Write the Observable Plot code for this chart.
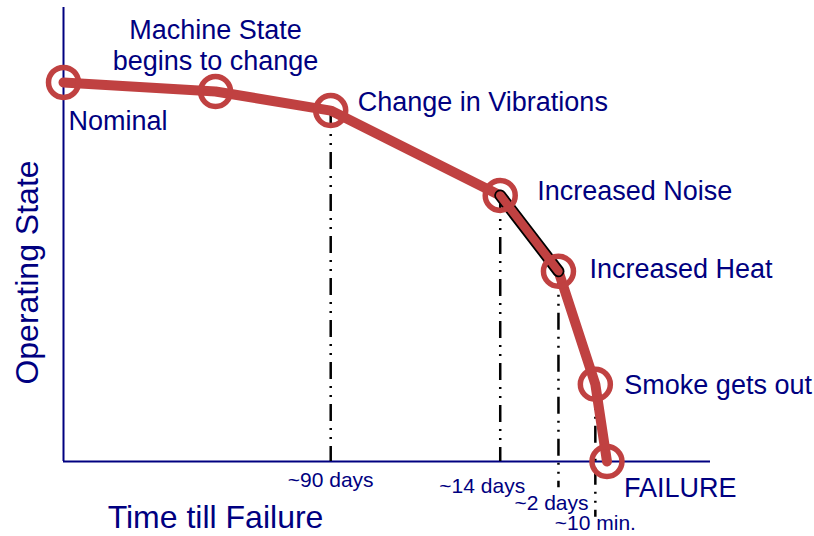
<!DOCTYPE html>
<html>
<head>
<meta charset="utf-8">
<script src="https://cdn.jsdelivr.net/npm/d3@7"></script>
<script src="https://cdn.jsdelivr.net/npm/@observablehq/plot@0.6"></script>
<style>
  html, body { margin: 0; padding: 0; background: #fff; }
  #chart svg { display: block; }
</style>
</head>
<body>
<div id="chart"></div>
<script>
// Stages of machine degradation (time position 0..100, operating state 0..100)
const stages = ["Nominal", "Machine State\nbegins to change", "Change in Vibrations", "Increased Noise", "Increased Heat", "Smoke gets out", "FAILURE"];
const timePos = [0, 23.5, 41.3, 67.5, 76.5, 82.2, 84.0];
const stateVal = [83.5, 81.5, 77.3, 58.6, 41.9, 17.0, 0];

// Time-till-failure markers (index of stage they drop from)
const markerStage = [2, 3, 4, 5];
const markerLabels = ["~90 days", "~14 days", "~2 days", "~10 min."];
const markerBottom = [0, 0, -5.8, -12.3];

const RED = "#C04141";
const NAVY = "#000080";
const FONT = "Liberation Sans, Arial, sans-serif";

const pts = stages.map((s, i) => ({stage: s, t: timePos[i], v: stateVal[i]}));
const markers = markerStage.map((si, i) => ({t: timePos[si], v: stateVal[si], bottom: markerBottom[i], label: markerLabels[i]}));

// label offsets (layout only)
const labelLayout = [
  {dx: 5, dy: 38, anchor: "start"},
  {dx: 0, dy: -47, anchor: "middle"},
  {dx: 27, dy: -9, anchor: "start"},
  {dx: 37, dy: -5, anchor: "start"},
  {dx: 31, dy: -3, anchor: "start"},
  {dx: 29, dy: 0, anchor: "start"},
  {dx: 17, dy: 26, anchor: "start"}
];
const markerLayout = [
  {dx: 0, dy: 19},
  {dx: -18, dy: 25},
  {dx: -7, dy: 42},
  {dx: 0, dy: 62}
];

const marks = [
  Plot.ruleX([0], {stroke: NAVY, strokeWidth: 2}),
  Plot.ruleY([0], {stroke: NAVY, strokeWidth: 2}),
  Plot.ruleX(markers, {x: "t", y1: "v", y2: "bottom", stroke: "#000", strokeWidth: 2.5, strokeDasharray: "17,7,2,7,2,7"}),
  Plot.line(pts, {x: "t", y: "v", stroke: RED, strokeWidth: 10, strokeLinejoin: "round", strokeLinecap: "round"}),
  Plot.line(pts.slice(3, 5), {x: "t", y: "v", stroke: "#000", strokeWidth: 12, strokeLinecap: "round"}),
  Plot.line(pts.slice(3, 5), {x: "t", y: "v", stroke: RED, strokeWidth: 8.5, strokeLinecap: "round"}),
  Plot.dot(pts, {x: "t", y: "v", r: 15, stroke: RED, strokeWidth: 5.5, fill: "none"}),
  ...pts.map((p, i) => Plot.text([p], {
    x: "t", y: "v", text: "stage",
    dx: labelLayout[i].dx, dy: labelLayout[i].dy,
    textAnchor: labelLayout[i].anchor, lineAnchor: "middle", lineHeight: 1.15,
    fill: NAVY, fontSize: 27, fontFamily: FONT
  })),
  ...markers.map((m, i) => Plot.text([m], {
    x: "t", y: () => 0, text: "label",
    dx: markerLayout[i].dx, dy: markerLayout[i].dy,
    textAnchor: "middle", lineAnchor: "middle",
    fill: NAVY, fontSize: 21, fontFamily: FONT
  })),
  Plot.text(["Operating State"], {frameAnchor: "left", text: d => d, rotate: -90, dx: -36, dy: 38, textAnchor: "middle", lineAnchor: "middle", fill: NAVY, fontSize: 32, fontFamily: FONT}),
  Plot.text(["Time till Failure"], {frameAnchor: "bottom-left", text: d => d, dx: 152, dy: 56, textAnchor: "middle", lineAnchor: "middle", fill: NAVY, fontSize: 32, fontFamily: FONT})
];

const chart = Plot.plot({
  width: 814,
  height: 536,
  marginLeft: 63,
  marginRight: 104,
  marginTop: 7,
  marginBottom: 75,
  x: {domain: [0, 100], axis: null},
  y: {domain: [0, 100], axis: null},
  style: {background: "#fff", overflow: "visible"},
  marks
});
document.getElementById("chart").appendChild(chart);
</script>
</body>
</html>
